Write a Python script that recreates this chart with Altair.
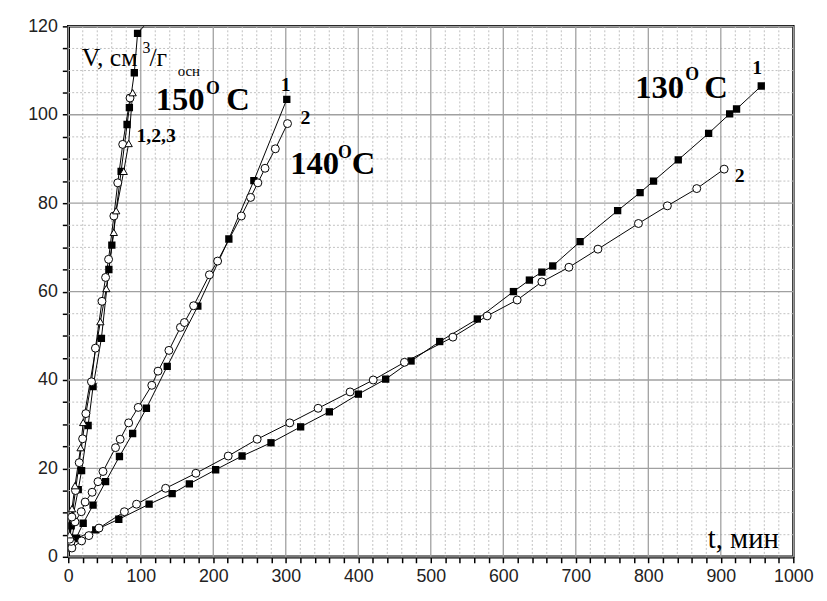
import altair as alt
import pandas as pd

# ---------------- data ----------------
# 130 °C
t130_1 = [4, 11.6, 37.9, 69.7, 111.5, 143.3, 167.0, 203.3, 239.7, 279.6, 320.5, 360.1, 400.1, 437.8,
          472.8, 512.3, 564.2, 614.0, 636.0, 653.2, 668.2, 705.9, 757.7, 788.7, 807.2, 841.3, 883.2,
          912.2, 921.7, 955.8]
v130_1 = [2.4, 4.2, 6.1, 8.5, 11.9, 14.3, 16.5, 19.7, 22.8, 25.8, 29.4, 32.8, 36.8, 40.2,
          44.3, 48.7, 53.8, 60.0, 62.6, 64.4, 65.8, 71.3, 78.3, 82.4, 85.0, 89.8, 95.8,
          100.2, 101.3, 106.5]
t130_2 = [5, 18.4, 28.4, 42.4, 77.4, 94.2, 134.3, 176.0, 220.6, 260.5, 305.5, 344.6, 388.7, 420.6,
          463.7, 530.5, 577.8, 619.1, 653.2, 690.5, 730.5, 786.4, 826.3, 866.8, 904.6]
v130_2 = [2.0, 3.6, 4.8, 6.5, 10.2, 11.9, 15.5, 18.9, 22.8, 26.6, 30.3, 33.6, 37.3, 40.0,
          44.0, 49.7, 54.5, 58.1, 62.2, 65.5, 69.6, 75.4, 79.4, 83.3, 87.7]
# 140 °C
t140_1 = [3, 10.6, 20.6, 34.2, 51.5, 70.6, 88.8, 107.8, 136.5, 178.7, 221.5, 256.0, 301.4]
v140_1 = [2.0, 4.1, 7.6, 11.7, 17.0, 22.7, 27.9, 33.6, 43.1, 56.7, 71.9, 85.1, 103.5]
t140_2 = [4, 9.3, 17.9, 23.3, 32.9, 41.0, 47.9, 65.2, 71.6, 83.3, 96.5, 115.2, 123.8, 138.8,
          154.7, 160.2, 172.9, 194.7, 206.0, 238.7, 251.5, 261.5, 271.4, 285.6, 302.4]
v140_2 = [3.5, 7.9, 10.2, 12.4, 14.6, 17.0, 19.3, 24.7, 26.6, 30.3, 33.8, 38.8, 42.0, 46.7,
          51.9, 53.0, 56.8, 63.8, 66.9, 77.1, 81.3, 84.6, 87.9, 92.3, 98.0]
# 150 °C
t150_1 = [2, 4, 13.8, 18.4, 27.4, 34.2, 45.7, 56.0, 60.1, 72.9, 81.1, 84.3, 91.1, 95.6, 120]
v150_1 = [3, 7, 15.2, 19.5, 29.7, 38.5, 49.4, 65.0, 70.5, 87.2, 97.8, 101.6, 109.5, 118.4, 123]
t150_2 = [2, 5, 10, 15.1, 19.8, 24.3, 32.0, 37.5, 46.5, 51.5, 55.6, 62.9, 68.3, 75.1, 85.2]
v150_2 = [4, 9, 15, 21.3, 26.7, 32.4, 39.6, 47.2, 57.8, 63.2, 67.3, 77.1, 84.6, 93.3, 103.8]
t150_3 = [2, 5.2, 9.3, 17.0, 20.6, 44.3, 52.5, 62.8, 66.1, 76.5, 83.3, 88.8]
v150_3 = [5, 10.9, 16.1, 24.7, 30.4, 53.2, 60.7, 73.4, 78.3, 87.2, 93.5, 105.0]

x_ticks_major = [0, 100, 200, 300, 400, 500, 600, 700, 800, 900, 1000]
y_ticks_major = [0, 20, 40, 60, 80, 100, 120]
x_ticks_minor = [v for v in range(0, 1001, 20) if v % 100 != 0]
y_ticks_minor = [v for v in range(0, 121, 5) if v % 20 != 0]

W, H = 734, 537


def curve(t, v, name):
    return pd.DataFrame({"t": t, "v": v, "curve": name, "i": list(range(len(t)))})


squares = pd.concat([curve(t130_1, v130_1, "130-1"),
                     curve(t140_1, v140_1, "140-1"),
                     curve(t150_1, v150_1, "150-1")])
circles = pd.concat([curve(t130_2, v130_2, "130-2"),
                     curve(t140_2, v140_2, "140-2"),
                     curve(t150_2, v150_2, "150-2")])
triangles = curve(t150_3, v150_3, "150-3")
alldata = pd.concat([squares, circles, triangles])

XS = alt.Scale(domain=[0, 1000], nice=False, zero=False)
YS = alt.Scale(domain=[0, 120], nice=False, zero=False)

x_axis = alt.Axis(orient="bottom", values=x_ticks_major + x_ticks_minor, grid=False, format="d",
                  labelExpr="datum.value % 100 === 0 ? datum.label : ''",
                  labelFont="Liberation Sans", labelFontSize=18, labelColor="#222",
                  labelPadding=5, labelFlush=False, labelOverlap=False,
                  ticks=True, tickSize=6, tickColor="black", tickWidth=1.5,
                  domain=True, domainColor="black", domainWidth=2.5, title=None)
y_axis = alt.Axis(orient="left", values=y_ticks_major + y_ticks_minor, grid=False, format="d",
                  labelExpr="datum.value % 20 === 0 ? datum.label : ''",
                  labelFont="Liberation Sans", labelFontSize=18, labelColor="#222",
                  labelPadding=5, labelFlush=False, labelOverlap=False,
                  ticks=True, tickSize=6, tickColor="black", tickWidth=1.5,
                  domain=True, domainColor="black", domainWidth=2.5, title=None)

xenc = alt.X("t:Q", scale=XS, axis=x_axis)
yenc = alt.Y("v:Q", scale=YS, axis=y_axis)

# ---- grid lines (rules at tick values) ----
gx_minor = alt.Chart(pd.DataFrame({"t": x_ticks_minor})).mark_rule(
    color="#c0c0c0", strokeDash=[2, 2], strokeWidth=1).encode(x=xenc)
gy_minor = alt.Chart(pd.DataFrame({"v": y_ticks_minor})).mark_rule(
    color="#c0c0c0", strokeDash=[2, 2], strokeWidth=1).encode(y=yenc)
gx_major = alt.Chart(pd.DataFrame({"t": x_ticks_major})).mark_rule(
    color="#a0a0a0", strokeWidth=1.3).encode(x=xenc)
gy_major = alt.Chart(pd.DataFrame({"v": y_ticks_major})).mark_rule(
    color="#a0a0a0", strokeWidth=1.3).encode(y=yenc)

lines = alt.Chart(alldata).mark_line(color="black", strokeWidth=1, clip=True).encode(
    x=xenc, y=yenc, detail="curve:N", order="i:Q")

sq = alt.Chart(squares).mark_point(shape="square", filled=True, color="black", size=55,
                                   opacity=1, clip=True).encode(x=xenc, y=yenc)
ci = alt.Chart(circles).mark_point(shape="circle", filled=True, fill="white", stroke="black",
                                   strokeWidth=1, size=65, opacity=1, clip=True).encode(x=xenc, y=yenc)
tr = alt.Chart(triangles).mark_point(shape="triangle-up", filled=True, fill="white", stroke="black",
                                     strokeWidth=1, size=55, opacity=1, clip=True).encode(x=xenc, y=yenc)


def label(text, tx, vy, size, bold=True, align="left"):
    return alt.Chart(pd.DataFrame({"a": [0]})).mark_text(
        text=text, font="Liberation Serif", fontSize=size,
        fontWeight="bold" if bold else "normal", color="black",
        align=align, baseline="alphabetic").encode(
        x=alt.X(datum=tx, type="quantitative", scale=XS, axis=x_axis),
        y=alt.Y(datum=vy, type="quantitative", scale=YS, axis=y_axis))


texts = [
    label("150", 120.5, 101, 33), label("O", 190, 104.8, 18), label("C", 218, 101, 33),
    label("1,2,3", 94, 93.8, 20),
    label("140", 306, 86.5, 33), label("O", 372, 90.3, 18), label("C", 391, 86.5, 33),
    label("1", 300, 105.4, 20, align="center"), label("2", 327, 98.0, 20, align="center"),
    label("130", 782, 103.9, 33), label("O", 851, 107.9, 18), label("C", 877, 103.9, 33),
    label("1", 950, 109.2, 20, align="center"), label("2", 926, 84.7, 20, align="center"),
    label("t, мин", 882, 2.0, 29, bold=False),
    label("V, см", 18.5, 111.0, 26, bold=False), label("3", 102.5, 114.0, 16, bold=False),
    label("/г", 112, 111.0, 26, bold=False), label("осн", 151, 108.8, 15, bold=False),
]

chart = alt.layer(gx_minor, gy_minor, gx_major, gy_major, lines, sq, ci, tr, *texts).properties(
    width=W, height=H,
    padding={"left": 19, "top": 6, "right": 5, "bottom": 0},
    background="white",
).configure_view(stroke="black", strokeWidth=2.5)

chart.save("out.html", embed_options={"renderer": "svg", "actions": False})
